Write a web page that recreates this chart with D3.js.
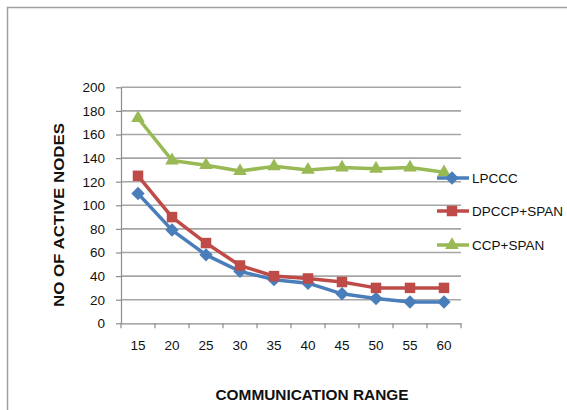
<!DOCTYPE html>
<html>
<head>
<meta charset="utf-8">
<script src="https://cdn.jsdelivr.net/npm/d3@7/dist/d3.min.js"></script>
<style>
  html, body { margin: 0; padding: 0; background: #fff; }
  svg { display: block; font-family: "Liberation Sans", Arial, sans-serif; }
</style>
</head>
<body>
<svg id="chart" width="567" height="410"></svg>
<script>
// Communication range (x categories)
const ranges = [15, 20, 25, 30, 35, 40, 45, 50, 55, 60];
// Number of active nodes per protocol
const lpccc    = [110, 79, 58, 44, 37, 34, 25, 21, 18, 18];
const dpccpSpan = [125, 90, 68, 49, 40, 38, 35, 30, 30, 30];
const ccpSpan  = [174, 138, 134, 129, 133, 130, 132, 131, 132, 128];
const yTicks = [0, 20, 40, 60, 80, 100, 120, 140, 160, 180, 200];

// square rotated 45 degrees: equal-width diamond marker
const symbolRhombus = {
  draw(ctx, size) {
    const r = Math.sqrt(size / 2);
    ctx.moveTo(0, -r);
    ctx.lineTo(r, 0);
    ctx.lineTo(0, r);
    ctx.lineTo(-r, 0);
    ctx.closePath();
  }
};

const series = [
  { name: "LPCCC", values: lpccc, color: "#4a7ebb", symbol: symbolRhombus, size: 90 },
  { name: "DPCCP+SPAN", values: dpccpSpan, color: "#be4b48", symbol: d3.symbolSquare, size: 110 },
  { name: "CCP+SPAN", values: ccpSpan, color: "#98b954", symbol: d3.symbolTriangle, size: 80 }
];

const svg = d3.select("#chart");

// outer chart border (only left and top edges fall inside the view)
svg.append("rect")
  .attr("x", 7.5).attr("y", 7.5)
  .attr("width", 600).attr("height", 450)
  .attr("fill", "none").attr("stroke", "#a0a0a0").attr("stroke-width", 1.5);

const plot = { left: 121, right: 461, top: 87.3, bottom: 323.3 };

const x = d3.scaleBand().domain(ranges).range([plot.left, plot.right]).padding(0);
const y = d3.scaleLinear().domain([0, 200]).range([plot.bottom, plot.top]);

// horizontal gridlines
svg.append("g")
  .selectAll("line")
  .data(yTicks.filter(d => d > 0))
  .join("line")
  .attr("x1", plot.left).attr("x2", plot.right)
  .attr("y1", d => y(d)).attr("y2", d => y(d))
  .attr("stroke", "#a6a6a6").attr("stroke-width", 1.6);

// y axis
const yAxis = svg.append("g")
  .attr("transform", `translate(${plot.left},0)`)
  .call(d3.axisLeft(y).tickValues(yTicks).tickSize(5).tickPadding(11).tickSizeOuter(0));
yAxis.select(".domain").attr("stroke", "#8c8c8c").attr("stroke-width", 1.2);
yAxis.selectAll(".tick line").attr("stroke", "#8c8c8c").attr("stroke-width", 1.2);
yAxis.selectAll(".tick text")
  .attr("font-size", 13.5).attr("fill", "#111")
  .attr("font-family", "Liberation Sans, Arial, sans-serif");

// x axis with tick marks on category boundaries
const xAxis = svg.append("g")
  .attr("transform", `translate(0,${plot.bottom})`)
  .call(d3.axisBottom(x).tickSize(0).tickPadding(17));
xAxis.select(".domain").attr("stroke", "#8c8c8c").attr("stroke-width", 1.2);
xAxis.selectAll(".tick text")
  .attr("font-size", 13.5).attr("fill", "#111")
  .attr("font-family", "Liberation Sans, Arial, sans-serif");
xAxis.append("g")
  .selectAll("line")
  .data(ranges.map(r => x(r)).concat([plot.right]))
  .join("line")
  .attr("x1", d => d).attr("x2", d => d)
  .attr("y1", 0).attr("y2", 5)
  .attr("stroke", "#8c8c8c").attr("stroke-width", 1.2);

const cx = d => x(d) + x.bandwidth() / 2;

// series lines and markers
const line = d3.line().x(d => cx(d[0])).y(d => y(d[1]));
series.forEach(s => {
  const pts = ranges.map((r, i) => [r, s.values[i]]);
  svg.append("path")
    .datum(pts)
    .attr("d", line)
    .attr("fill", "none")
    .attr("stroke", s.color)
    .attr("stroke-width", 3.5)
    .attr("stroke-linejoin", "round");
  svg.append("g")
    .selectAll("path")
    .data(pts)
    .join("path")
    .attr("transform", d => `translate(${cx(d[0])},${y(d[1])})`)
    .attr("d", d3.symbol().type(s.symbol).size(s.size))
    .attr("fill", s.color);
});

// legend
const legendY = [178, 211, 245];
const legend = svg.append("g");
series.forEach((s, i) => {
  const g = legend.append("g").attr("transform", `translate(0,${legendY[i]})`);
  g.append("line")
    .attr("x1", 437).attr("x2", 469).attr("y1", 0).attr("y2", 0)
    .attr("stroke", s.color).attr("stroke-width", 3.5);
  g.append("path")
    .attr("transform", "translate(452,0)")
    .attr("d", d3.symbol().type(s.symbol).size(s.size))
    .attr("fill", s.color);
  g.append("text")
    .attr("x", 472).attr("y", 0).attr("dy", "0.35em")
    .attr("font-size", 13.5).attr("fill", "#111")
    .text(s.name);
});

// axis titles
svg.append("text")
  .attr("x", 312).attr("y", 400)
  .attr("text-anchor", "middle")
  .attr("font-size", 14.5).attr("font-weight", "bold").attr("fill", "#111")
  .attr("textLength", 193).attr("lengthAdjust", "spacingAndGlyphs")
  .text("COMMUNICATION RANGE");

svg.append("text")
  .attr("transform", "translate(64,215) rotate(-90)")
  .attr("text-anchor", "middle")
  .attr("font-size", 14.5).attr("font-weight", "bold").attr("fill", "#111")
  .attr("textLength", 184).attr("lengthAdjust", "spacingAndGlyphs")
  .text("NO OF ACTIVE NODES");
</script>
</body>
</html>
